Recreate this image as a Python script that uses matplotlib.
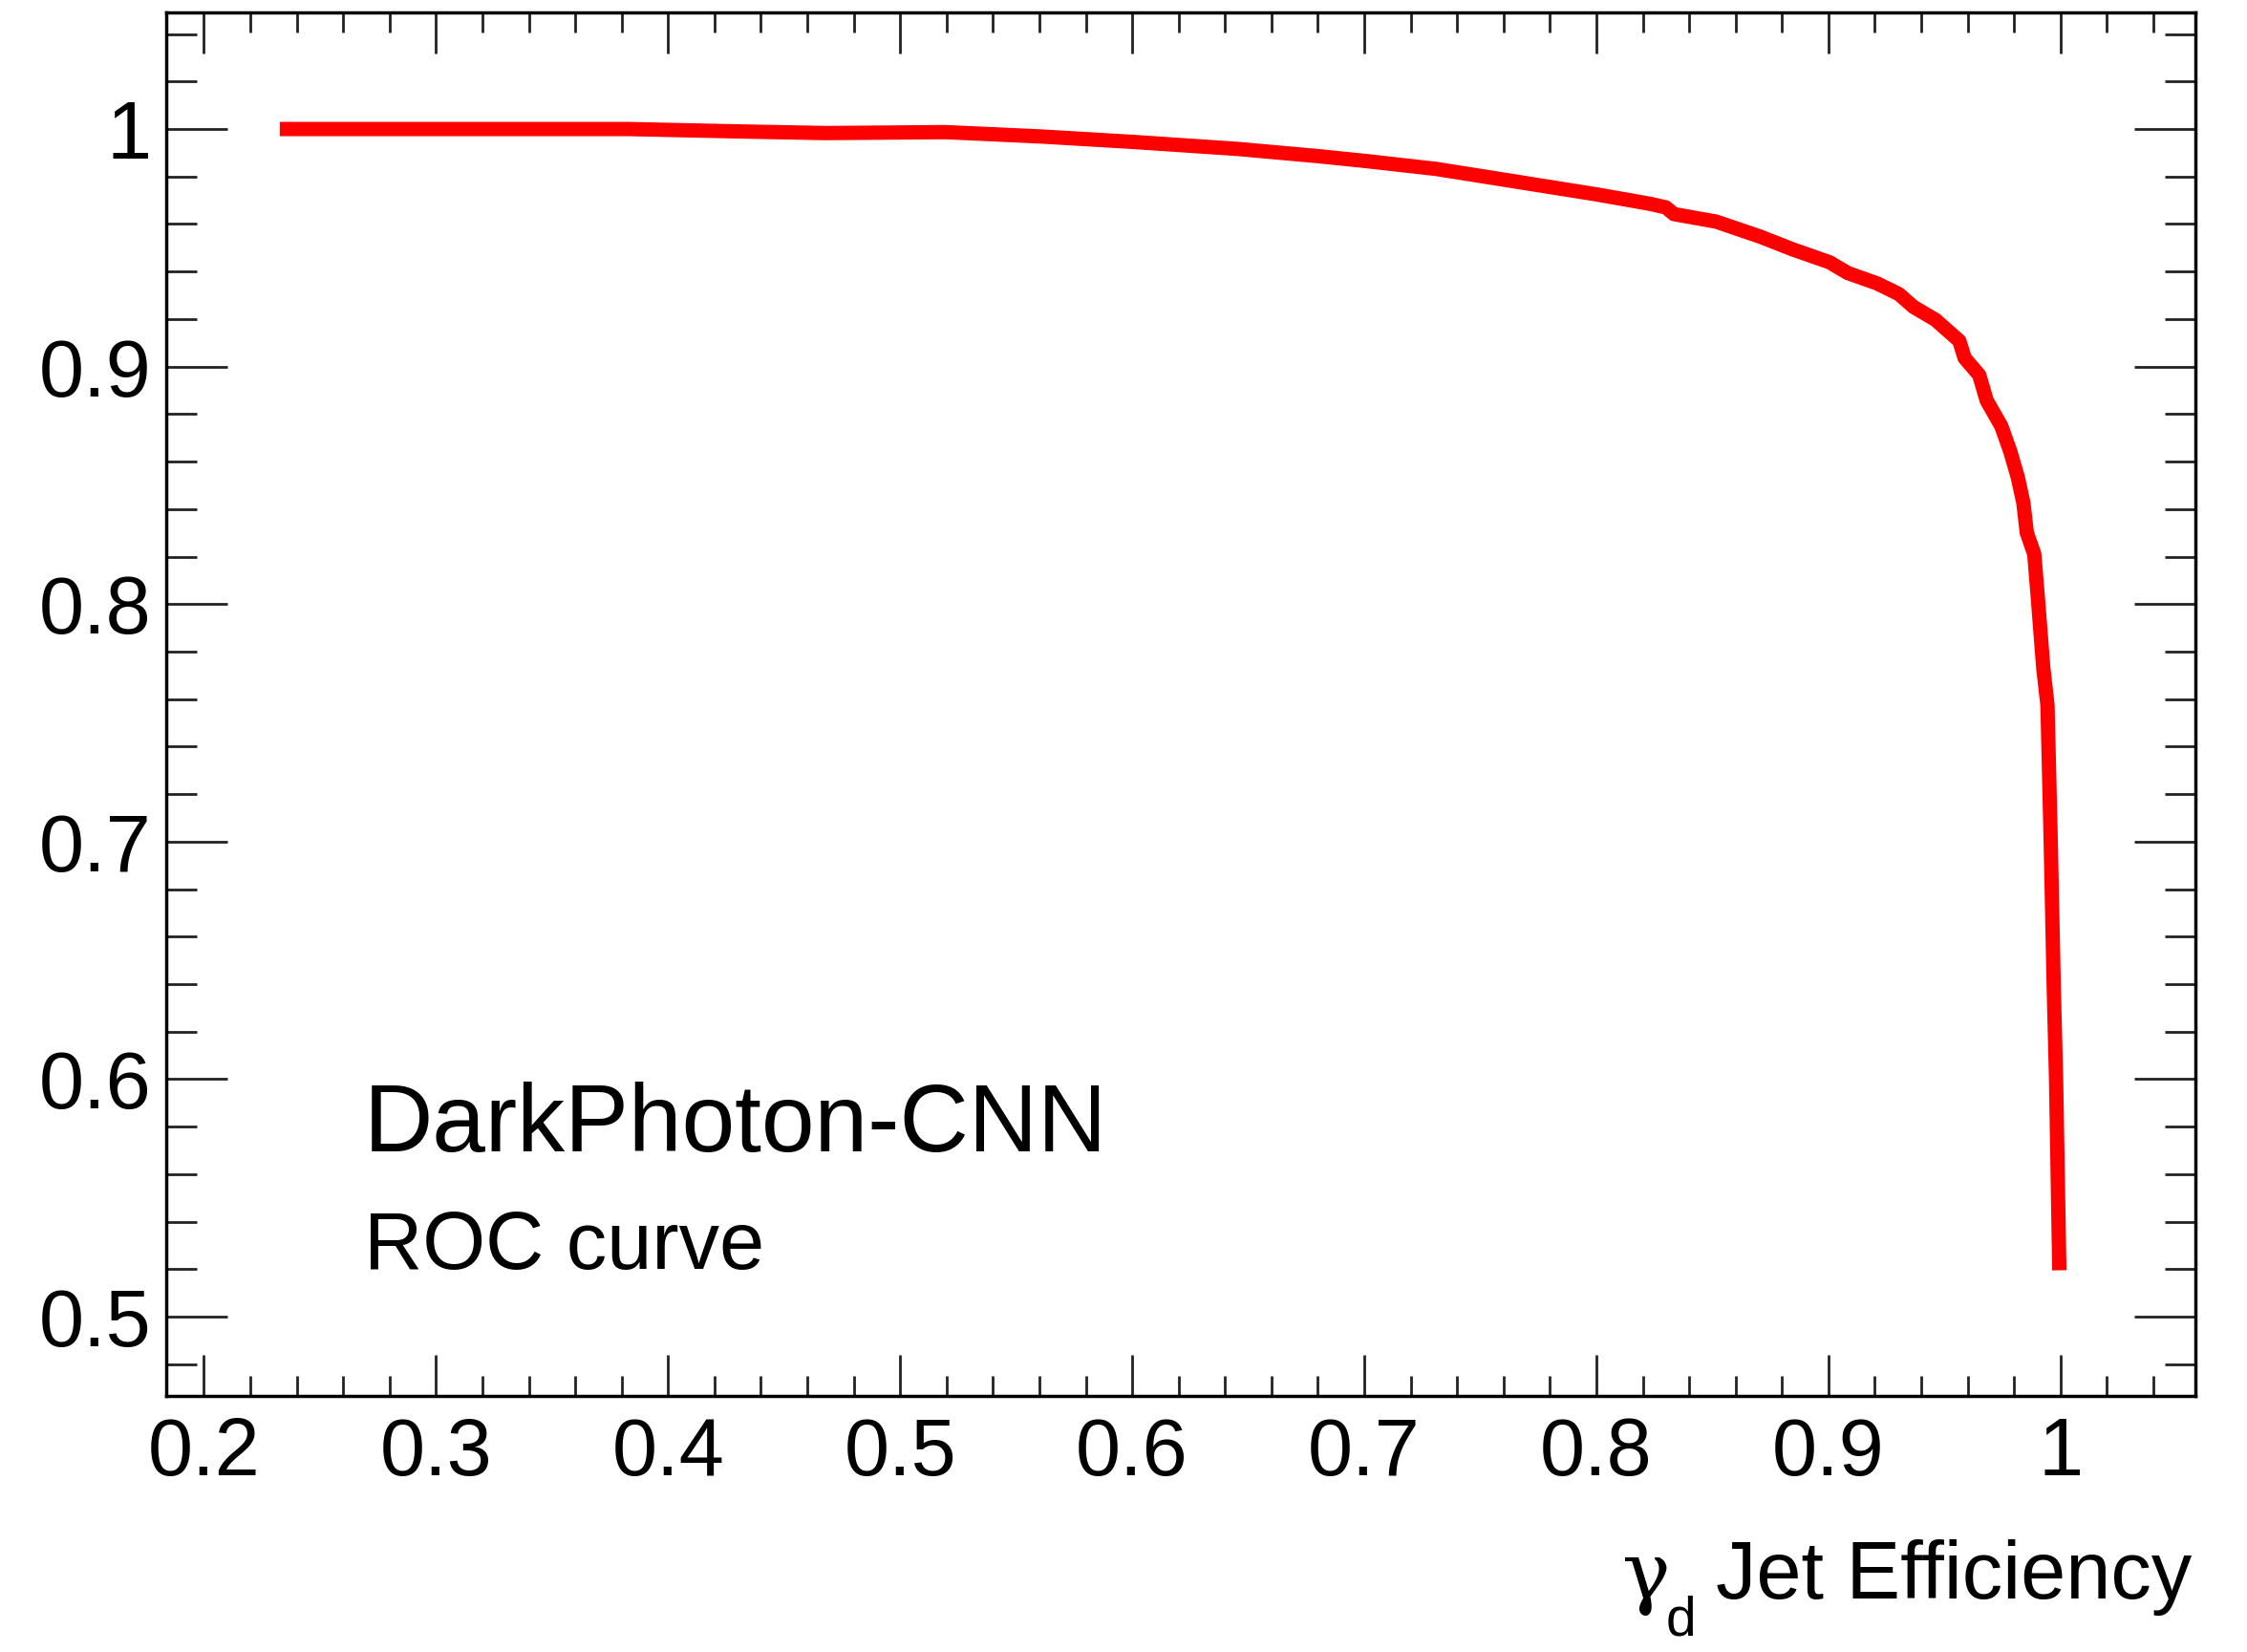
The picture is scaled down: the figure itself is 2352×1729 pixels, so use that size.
import matplotlib
matplotlib.use("Agg")
import matplotlib.pyplot as plt
from matplotlib.ticker import MultipleLocator

plt.rcParams["font.family"] = ["Liberation Sans", "DejaVu Sans"]

# ROC curve
efficiency = [0.2327, 0.30, 0.3386, 0.383, 0.43, 0.468, 0.5195, 0.56, 0.60,
              0.6457, 0.68, 0.70, 0.731, 0.7652, 0.80, 0.8232, 0.8300, 0.8334,
              0.8517, 0.8706, 0.8847, 0.9005, 0.9083, 0.921, 0.9304, 0.9367,
              0.9461, 0.9564, 0.9587, 0.965, 0.9682, 0.9745, 0.9784, 0.9816,
              0.984, 0.9855, 0.9887, 0.9902, 0.9926, 0.9944, 0.9958, 0.9971,
              0.9981, 0.9995]
rejection = [1.0, 1.0, 1.0, 1.0, 0.999, 0.9983, 0.9987, 0.9969, 0.9946,
             0.9916, 0.9886, 0.9866, 0.9832, 0.9779, 0.9725, 0.9685, 0.967,
             0.9642, 0.961, 0.9547, 0.9493, 0.9439, 0.9394, 0.935, 0.9305,
             0.9251, 0.9197, 0.9108, 0.9036, 0.8964, 0.8857, 0.8749, 0.8642,
             0.8534, 0.8427, 0.830, 0.8211, 0.8032, 0.773, 0.7574, 0.70,
             0.6385, 0.60, 0.5195]

title = "DarkPhoton-CNN"
subtitle = "ROC curve"
xlabel_sym = "γ"
xlabel_sub = "d"
xlabel = "Jet Efficiency"

W, H = 2352, 1729
fig = plt.figure(figsize=(W / 100, H / 100), dpi=100)
ax = fig.add_axes([0.0738, 0.155, 0.977 - 0.0738, 0.9922 - 0.155])

ax.plot(efficiency, rejection, color="#ff0000", lw=10.8, solid_capstyle="butt",
        solid_joinstyle="round")

ax.set_xlim(0.1836, 1.0581)
ax.set_ylim(0.4666, 1.0489)

ax.xaxis.set_major_locator(MultipleLocator(0.1))
ax.xaxis.set_minor_locator(MultipleLocator(0.02))
ax.yaxis.set_major_locator(MultipleLocator(0.1))
ax.yaxis.set_minor_locator(MultipleLocator(0.02))
ax.xaxis.set_major_formatter(lambda v, p: f"{v:g}")
ax.yaxis.set_major_formatter(lambda v, p: f"{v:g}")

ax.tick_params(axis="both", which="both", direction="in", top=True, right=True,
               width=2, color="#222222")
ax.tick_params(axis="x", which="major", length=31, pad=15, labelsize=61)
ax.tick_params(axis="x", which="minor", length=15)
ax.tick_params(axis="y", which="major", length=46, pad=11, labelsize=61)
ax.tick_params(axis="y", which="minor", length=23)
for s in ax.spines.values():
    s.set_linewidth(2.5)

fig.text(381 / W, 1 - 1205 / H, title, fontsize=72, ha="left", va="baseline")
fig.text(381 / W, 1 - 1328 / H, subtitle, fontsize=61, ha="left", va="baseline")

# x axis title, ROOT style with a low subscript
fig.text(1698 / W, 1 - 1673 / H, xlabel_sym, fontsize=61, ha="left",
         va="baseline", family="DejaVu Serif")
fig.text(1744 / W, 1 - 1712 / H, xlabel_sub, fontsize=41, ha="left",
         va="baseline")
fig.text(2294 / W, 1 - 1673 / H, xlabel, fontsize=61, ha="right",
         va="baseline")

fig.savefig("out.png", dpi=100)
